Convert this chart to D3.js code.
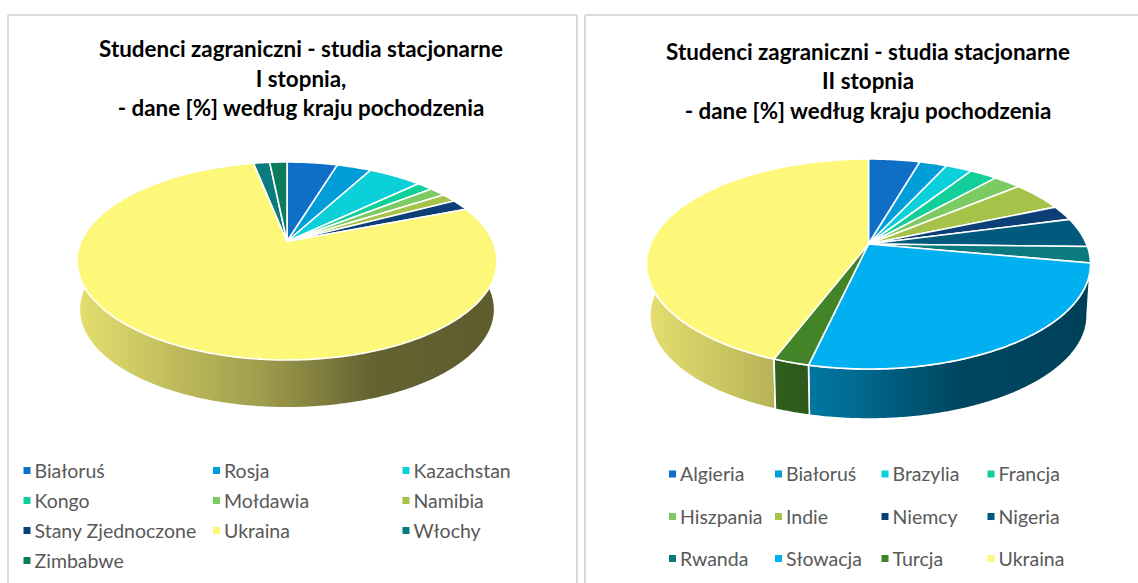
<!DOCTYPE html>
<html><head><meta charset="utf-8">
<script src="https://cdn.jsdelivr.net/npm/d3@7"></script>
<style>html,body{margin:0;padding:0;background:#fff;overflow:hidden}svg{display:block}</style>
</head><body><svg id="c" width="1138" height="583"></svg>
<script>
const titlesA = ["Studenci zagraniczni - studia stacjonarne","I stopnia,","- dane [%] według kraju pochodzenia"];
const titlesB = ["Studenci zagraniczni - studia stacjonarne","II stopnia","- dane [%] według kraju pochodzenia"];
const catsA = ["Białoruś","Rosja","Kazachstan","Kongo","Mołdawia","Namibia","Stany Zjednoczone","Ukraina","Włochy","Zimbabwe"];
const valsA = [4.7,3.2,5.0,1.5,1.5,1.4,1.8,77.8,1.5,1.6];
const colsA = ["#0F6FC6","#009DD9","#0BD0D9","#10CF9B","#7CCA62","#A5C249","#0B3F76","#FDF87A","#0B7A7F","#0B7B5C"];
const catsB = ["Algieria","Białoruś","Brazylia","Francja","Hiszpania","Indie","Niemcy","Nigeria","Rwanda","Słowacja","Turcja","Ukraina"];
const valsB = [4.5,2.4,2.3,2.4,2.4,4.6,2.3,4.5,2.5,25.7,2.2,44.2];
const colsB = ["#0F6FC6","#009DD9","#0BD0D9","#10CF9B","#7CCA62","#A5C249","#0B3F76","#005A7D","#0B7A7F","#00B0F0","#428427","#FDF87A"];

const svg = d3.select("#c");
const FONT = "Lato, 'Open Sans', sans-serif";
const defs = svg.append("defs");
const shade = d3.scaleLinear().domain([0,.2,.45,.7,1]).range([.9,.78,.62,.4,.37]);

// panel frames
[[8,15,577,15],[8,15,8,583],[577,15,577,583],[585,15,1138,15],[585,15,585,583]].forEach(l=>
  svg.append("line").attr("x1",l[0]).attr("y1",l[1]).attr("x2",l[2]).attr("y2",l[3])
     .attr("stroke","#d9d9d9").attr("stroke-width",2));

function pie3d(o){
  const g = svg.append("g");
  const pers = (o.bottom-o.apexY - (o.apexY-o.top))/((o.bottom-o.apexY)+(o.apexY-o.top));
  const B = (o.apexY-o.top)*(1+pers);
  const A = o.rx*Math.sqrt(1-pers*pers);
  const ellY = (o.top+o.bottom)/2;
  const top = t=>{const u=Math.sin(t),v=Math.cos(t),w=1+pers*v;return [o.cx+A*u/w,o.apexY-B*v/w];};
  const bot = t=>{const p=top(t);return [o.cx+(p[0]-o.cx)*o.s, ellY+(p[1]-ellY)*o.s+o.d];};
  const line = d3.line();
  const arcs = d3.pie().sort(null).value(d=>d)(o.vals);
  const samples=(a,b)=>{const n=Math.max(2,Math.ceil((b-a)/0.01));return d3.range(n+1).map(i=>a+(b-a)*i/n);};
  const lo=84*Math.PI/180, hi=276*Math.PI/180;

  // extruded side, back to front
  const sides = arcs.map((a,i)=>({a,i,s:Math.max(a.startAngle,lo),e:Math.min(a.endAngle,hi)}))
    .filter(d=>d.e>d.s);
  sides.sort((p,q)=>Math.abs((q.s+q.e)/2-Math.PI)-Math.abs((p.s+p.e)/2-Math.PI));
  sides.forEach(d=>{
    const id=o.id+"g"+d.i, base=d3.rgb(o.cols[d.i]);
    const gr=defs.append("linearGradient").attr("id",id).attr("gradientUnits","userSpaceOnUse")
      .attr("x1",o.cx-o.rx).attr("x2",o.cx+o.rx).attr("y1",0).attr("y2",0);
    shade.domain().forEach(f=>{
      const m=shade(f);
      gr.append("stop").attr("offset",f)
        .attr("stop-color",d3.rgb(base.r*m,base.g*m,base.b*m).formatHex());
    });
    const ts=samples(d.s,d.e);
    const pts=ts.map(top).concat(ts.slice().reverse().map(bot));
    g.append("path").attr("d",line(pts)+"Z").attr("fill",`url(#${id})`)
      .attr("stroke","#fff").attr("stroke-width",o.sideStroke).attr("stroke-linejoin","round");
  });
  // top face
  arcs.forEach((a,i)=>{
    const pts=[[o.cx,o.apexY]].concat(samples(a.startAngle,a.endAngle).map(top));
    g.append("path").attr("d",line(pts)+"Z").attr("fill",o.cols[i])
      .attr("stroke","#fff").attr("stroke-width",1.6).attr("stroke-linejoin","round");
  });
  // title
  o.titles.forEach((t,i)=>svg.append("text").attr("x",o.titleX).attr("y",o.titleY[i])
    .attr("text-anchor","middle").attr("dominant-baseline","central")
    .attr("font-family",FONT).attr("font-weight",700).attr("font-size",o.titleSize)
    .attr("fill","#000").text(t));
  // legend
  o.cats.forEach((c,i)=>{
    const col=i%o.colX.length,row=Math.floor(i/o.colX.length);
    svg.append("rect").attr("x",o.colX[col]-0.5).attr("y",o.rowY[row]-3.5)
      .attr("width",7).attr("height",7).attr("fill",o.cols[i]);
    svg.append("text").attr("x",o.colX[col]+10.5).attr("y",o.rowY[row]-0.5)
      .attr("dominant-baseline","central").attr("font-family",FONT)
      .attr("font-size",o.legSize).attr("fill","#595959").text(c);
  });
}
pie3d({id:"a",vals:valsA,cols:colsA,cats:catsA,titles:titlesA,cx:287,apexY:241.5,top:162,bottom:360,rx:210,s:.985,d:48.5,
  sideStroke:0,titleX:301,titleY:[48,78,107],titleSize:22.4,colX:[24,213.5,403],rowY:[470.5,500.5,530.5,560.5],legSize:19.5});
pie3d({id:"b",vals:valsB,cols:colsB,cats:catsB,titles:titlesB,cx:868.5,apexY:244,top:159,bottom:369,rx:222,s:.985,d:51.6,
  sideStroke:1.6,titleX:868,titleY:[51,80,110],titleSize:22.4,colX:[669.5,775.5,882,988],rowY:[474,516.5,558.5],legSize:19.5});
</script></body></html>
